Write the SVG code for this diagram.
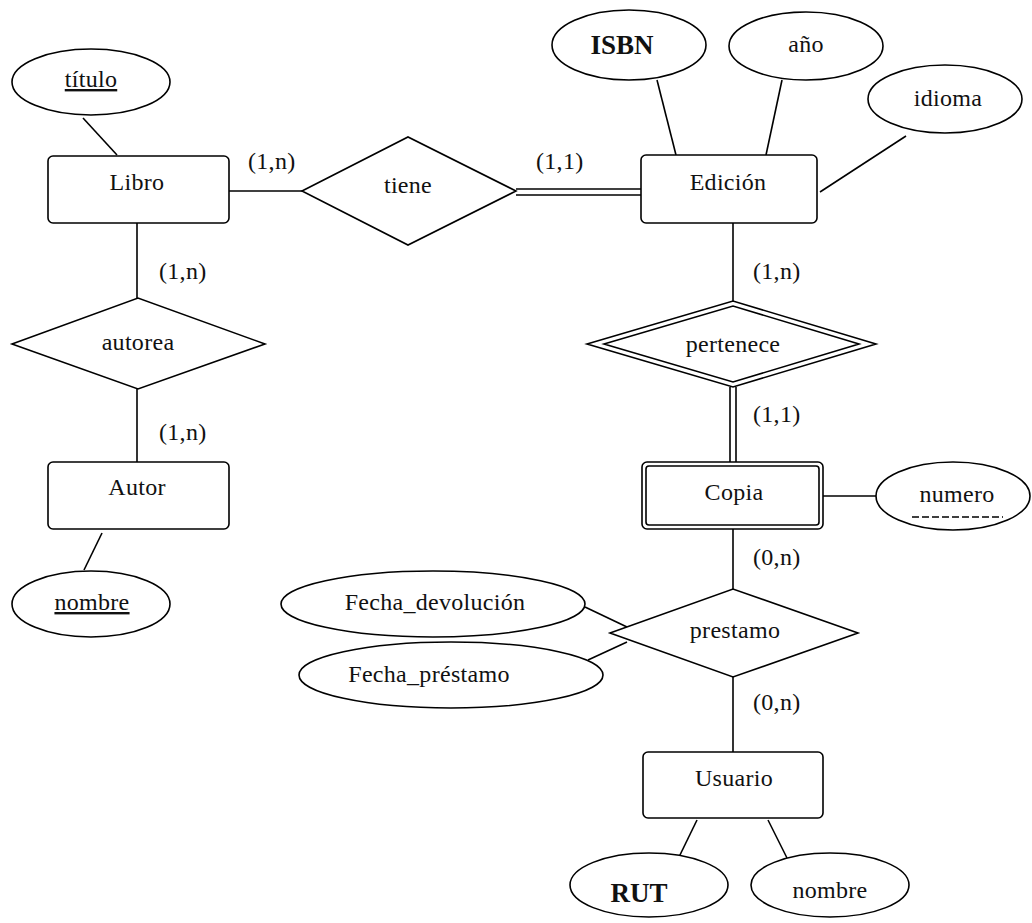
<svg xmlns="http://www.w3.org/2000/svg" width="1032" height="923" viewBox="0 0 1032 923">
<style>
.s{fill:#fff;stroke:#000;stroke-width:1.6}
.l{fill:none;stroke:#000;stroke-width:1.6}
text{font-family:"Liberation Serif","Times New Roman",serif;font-size:24px;fill:#111;letter-spacing:0.3px}
.c{text-anchor:middle}
.b{font-weight:bold;font-size:27px;letter-spacing:0}
</style>
<rect width="1032" height="923" fill="#fff"/>
<g id="connectors">
<line class="l" x1="83" y1="118" x2="117" y2="155"/>
<line class="l" x1="229" y1="191" x2="302" y2="191"/>
<line class="l" x1="516" y1="189" x2="641" y2="189"/>
<line class="l" x1="516" y1="195" x2="641" y2="195"/>
<line class="l" x1="657" y1="80" x2="676" y2="155"/>
<line class="l" x1="782" y1="80" x2="766" y2="155"/>
<line class="l" x1="906" y1="136" x2="820" y2="192"/>
<line class="l" x1="137" y1="223" x2="137" y2="298"/>
<line class="l" x1="137" y1="389" x2="137" y2="462"/>
<line class="l" x1="102" y1="533" x2="84" y2="570"/>
<line class="l" x1="733" y1="223" x2="733" y2="301"/>
<line class="l" x1="730" y1="387" x2="730" y2="462"/>
<line class="l" x1="736" y1="387" x2="736" y2="462"/>
<line class="l" x1="823" y1="496" x2="876" y2="496"/>
<line class="l" x1="733" y1="529" x2="733" y2="589"/>
<line class="l" x1="585" y1="607" x2="627" y2="627"/>
<line class="l" x1="588" y1="660" x2="627" y2="642"/>
<line class="l" x1="733" y1="677" x2="733" y2="752"/>
<line class="l" x1="697" y1="820" x2="679" y2="857"/>
<line class="l" x1="768" y1="820" x2="787" y2="858"/>
</g>
<g id="labels">
<text x="248" y="169">(1,n)</text>
<text x="536" y="169">(1,1)</text>
<text x="159" y="279">(1,n)</text>
<text x="159" y="440">(1,n)</text>
<text x="753" y="279">(1,n)</text>
<text x="753" y="422">(1,1)</text>
<text x="753" y="565">(0,n)</text>
<text x="753" y="710">(0,n)</text>
</g>
<g id="titulo"><ellipse class="s" cx="91" cy="82" rx="79" ry="33"/><text class="c" x="91" y="87" text-decoration="underline">título</text></g>
<g id="libro"><rect class="s" x="48" y="156" width="181" height="67" rx="5"/><text class="c" x="137" y="190">Libro</text></g>
<g id="tiene"><polygon class="s" points="302,191 408,137 516,191 408,245"/><text class="c" x="408" y="193">tiene</text></g>
<g id="edicion"><rect class="s" x="641" y="155" width="176" height="68" rx="5"/><text class="c" x="728" y="190">Edición</text></g>
<g id="isbn"><ellipse class="s" cx="629" cy="45" rx="77" ry="35"/><text class="c b" x="622" y="54">ISBN</text></g>
<g id="anio"><ellipse class="s" cx="806" cy="46" rx="77" ry="34"/><text class="c" x="806" y="52">año</text></g>
<g id="idioma"><ellipse class="s" cx="945" cy="99" rx="77" ry="34"/><text class="c" x="948" y="106">idioma</text></g>
<g id="autorea"><polygon class="s" points="12,344 138,298 265,344 138,389"/><text class="c" x="138" y="350">autorea</text></g>
<g id="autor"><rect class="s" x="48" y="462" width="181" height="67" rx="5"/><text class="c" x="137" y="495">Autor</text></g>
<g id="nombre_autor"><ellipse class="s" cx="91" cy="604" rx="79" ry="33"/><text class="c" x="92" y="610" text-decoration="underline">nombre</text></g>
<g id="pertenece"><polygon class="s" points="587,344 733,301 876,344 733,387"/><polygon class="l" points="604,344 733,306 859,344 733,382"/><text class="c" x="733" y="352">pertenece</text></g>
<g id="copia"><rect class="s" x="642" y="462" width="181" height="67" rx="5"/><rect class="l" x="646" y="466" width="173" height="59" rx="3"/><text class="c" x="734" y="500">Copia</text></g>
<g id="numero"><ellipse class="s" cx="953" cy="496" rx="77" ry="34"/><text class="c" x="957" y="502">numero</text><line class="l" x1="912" y1="517" x2="1003" y2="517" stroke-dasharray="7,3"/></g>
<g id="prestamo"><polygon class="s" points="610,633 733,589 858,633 733,677"/><text class="c" x="735" y="638">prestamo</text></g>
<g id="fecha_devolucion"><ellipse class="s" cx="433" cy="604" rx="152" ry="33"/><text class="c" x="435" y="610">Fecha_devolución</text></g>
<g id="fecha_prestamo"><ellipse class="s" cx="451" cy="675" rx="152" ry="33"/><text class="c" x="429" y="682">Fecha_préstamo</text></g>
<g id="usuario"><rect class="s" x="643" y="752" width="180" height="66" rx="5"/><text class="c" x="734" y="786">Usuario</text></g>
<g id="rut"><ellipse class="s" cx="649" cy="885" rx="79" ry="32"/><text class="c b" x="639" y="902">RUT</text></g>
<g id="nombre_usuario"><ellipse class="s" cx="830" cy="885" rx="79" ry="32"/><text class="c" x="830" y="898">nombre</text></g>
</svg>
